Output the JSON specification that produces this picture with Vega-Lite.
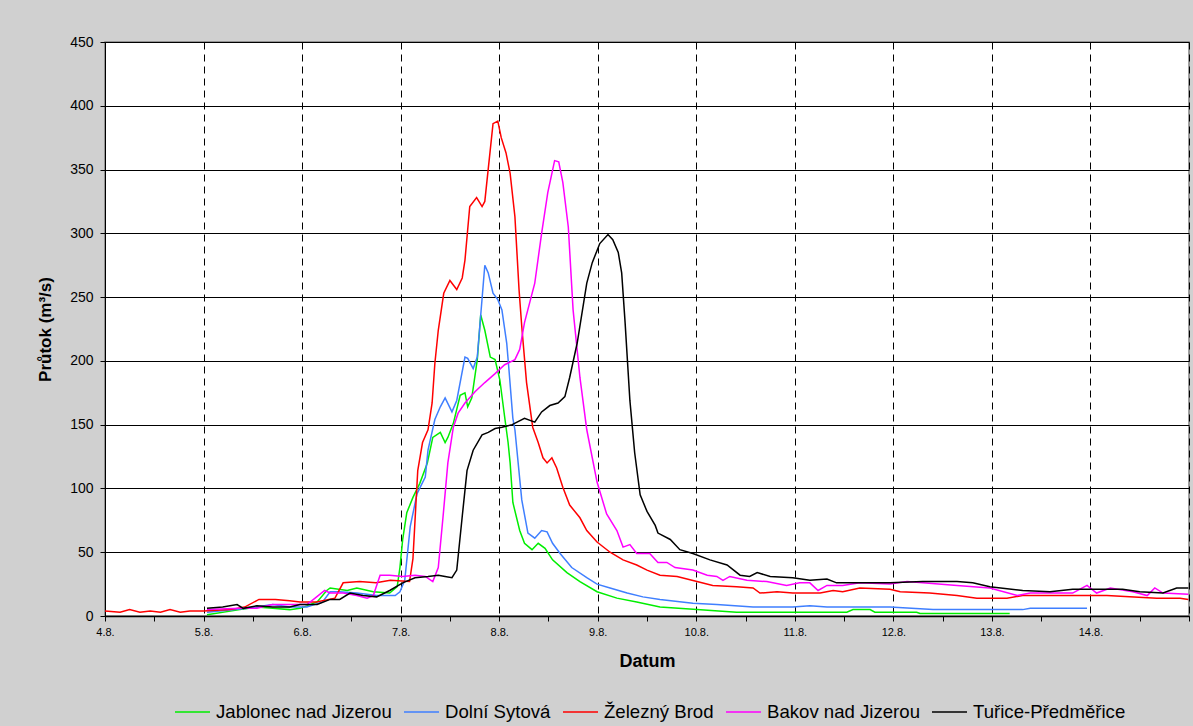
{
  "$schema": "https://vega.github.io/schema/vega-lite/v6.json",
  "width": 1084,
  "height": 574,
  "autosize": {"type": "none"},
  "padding": {"left": 105, "top": 42, "right": 4, "bottom": 110},
  "background": "#d0d0d0",
  "config": {
    "font": "Liberation Sans",
    "view": {"fill": "white", "stroke": "#808080", "strokeWidth": 1.5}
  },
  "data": {
    "values": [
      {"s": "Jablonec nad Jizerou", "t": "2010-08-05T00:50", "q": 1},
      {"s": "Jablonec nad Jizerou", "t": "2010-08-05T08:50", "q": 5},
      {"s": "Jablonec nad Jizerou", "t": "2010-08-05T13:00", "q": 7},
      {"s": "Jablonec nad Jizerou", "t": "2010-08-05T16:50", "q": 6},
      {"s": "Jablonec nad Jizerou", "t": "2010-08-05T21:00", "q": 5},
      {"s": "Jablonec nad Jizerou", "t": "2010-08-05T23:30", "q": 6},
      {"s": "Jablonec nad Jizerou", "t": "2010-08-06T03:40", "q": 11},
      {"s": "Jablonec nad Jizerou", "t": "2010-08-06T06:00", "q": 20},
      {"s": "Jablonec nad Jizerou", "t": "2010-08-06T06:50", "q": 22},
      {"s": "Jablonec nad Jizerou", "t": "2010-08-06T11:00", "q": 20},
      {"s": "Jablonec nad Jizerou", "t": "2010-08-06T13:20", "q": 22},
      {"s": "Jablonec nad Jizerou", "t": "2010-08-06T17:20", "q": 19},
      {"s": "Jablonec nad Jizerou", "t": "2010-08-06T21:20", "q": 18},
      {"s": "Jablonec nad Jizerou", "t": "2010-08-06T23:10", "q": 23},
      {"s": "Jablonec nad Jizerou", "t": "2010-08-06T23:50", "q": 38},
      {"s": "Jablonec nad Jizerou", "t": "2010-08-07T00:30", "q": 60},
      {"s": "Jablonec nad Jizerou", "t": "2010-08-07T01:30", "q": 81},
      {"s": "Jablonec nad Jizerou", "t": "2010-08-07T03:00", "q": 93},
      {"s": "Jablonec nad Jizerou", "t": "2010-08-07T04:40", "q": 104},
      {"s": "Jablonec nad Jizerou", "t": "2010-08-07T06:30", "q": 120},
      {"s": "Jablonec nad Jizerou", "t": "2010-08-07T07:50", "q": 140},
      {"s": "Jablonec nad Jizerou", "t": "2010-08-07T09:40", "q": 144},
      {"s": "Jablonec nad Jizerou", "t": "2010-08-07T10:50", "q": 136},
      {"s": "Jablonec nad Jizerou", "t": "2010-08-07T11:30", "q": 140},
      {"s": "Jablonec nad Jizerou", "t": "2010-08-07T12:50", "q": 151},
      {"s": "Jablonec nad Jizerou", "t": "2010-08-07T14:30", "q": 173},
      {"s": "Jablonec nad Jizerou", "t": "2010-08-07T15:40", "q": 175},
      {"s": "Jablonec nad Jizerou", "t": "2010-08-07T16:20", "q": 164},
      {"s": "Jablonec nad Jizerou", "t": "2010-08-07T17:20", "q": 171},
      {"s": "Jablonec nad Jizerou", "t": "2010-08-07T18:40", "q": 201},
      {"s": "Jablonec nad Jizerou", "t": "2010-08-07T19:30", "q": 236},
      {"s": "Jablonec nad Jizerou", "t": "2010-08-07T20:30", "q": 224},
      {"s": "Jablonec nad Jizerou", "t": "2010-08-07T21:50", "q": 203},
      {"s": "Jablonec nad Jizerou", "t": "2010-08-07T23:00", "q": 201},
      {"s": "Jablonec nad Jizerou", "t": "2010-08-08T00:10", "q": 185},
      {"s": "Jablonec nad Jizerou", "t": "2010-08-08T01:20", "q": 156},
      {"s": "Jablonec nad Jizerou", "t": "2010-08-08T02:10", "q": 136},
      {"s": "Jablonec nad Jizerou", "t": "2010-08-08T02:40", "q": 120},
      {"s": "Jablonec nad Jizerou", "t": "2010-08-08T03:20", "q": 89},
      {"s": "Jablonec nad Jizerou", "t": "2010-08-08T05:00", "q": 67},
      {"s": "Jablonec nad Jizerou", "t": "2010-08-08T06:10", "q": 57},
      {"s": "Jablonec nad Jizerou", "t": "2010-08-08T08:00", "q": 52},
      {"s": "Jablonec nad Jizerou", "t": "2010-08-08T09:30", "q": 57},
      {"s": "Jablonec nad Jizerou", "t": "2010-08-08T11:10", "q": 53},
      {"s": "Jablonec nad Jizerou", "t": "2010-08-08T13:00", "q": 44},
      {"s": "Jablonec nad Jizerou", "t": "2010-08-08T16:30", "q": 34},
      {"s": "Jablonec nad Jizerou", "t": "2010-08-08T19:40", "q": 27},
      {"s": "Jablonec nad Jizerou", "t": "2010-08-08T23:50", "q": 19},
      {"s": "Jablonec nad Jizerou", "t": "2010-08-09T04:40", "q": 14},
      {"s": "Jablonec nad Jizerou", "t": "2010-08-09T09:30", "q": 11},
      {"s": "Jablonec nad Jizerou", "t": "2010-08-09T15:10", "q": 7},
      {"s": "Jablonec nad Jizerou", "t": "2010-08-10T00:10", "q": 5},
      {"s": "Jablonec nad Jizerou", "t": "2010-08-10T09:50", "q": 3},
      {"s": "Jablonec nad Jizerou", "t": "2010-08-11T12:40", "q": 3},
      {"s": "Jablonec nad Jizerou", "t": "2010-08-11T14:10", "q": 5},
      {"s": "Jablonec nad Jizerou", "t": "2010-08-11T18:20", "q": 5},
      {"s": "Jablonec nad Jizerou", "t": "2010-08-11T19:30", "q": 3},
      {"s": "Jablonec nad Jizerou", "t": "2010-08-12T05:40", "q": 3},
      {"s": "Jablonec nad Jizerou", "t": "2010-08-12T06:30", "q": 2},
      {"s": "Jablonec nad Jizerou", "t": "2010-08-13T04:20", "q": 2},

      {"s": "Dolní Sytová", "t": "2010-08-05T00:50", "q": 3},
      {"s": "Dolní Sytová", "t": "2010-08-05T10:40", "q": 6},
      {"s": "Dolní Sytová", "t": "2010-08-05T16:50", "q": 9},
      {"s": "Dolní Sytová", "t": "2010-08-05T21:00", "q": 7},
      {"s": "Dolní Sytová", "t": "2010-08-06T01:10", "q": 7},
      {"s": "Dolní Sytová", "t": "2010-08-06T05:00", "q": 11},
      {"s": "Dolní Sytová", "t": "2010-08-06T06:50", "q": 19},
      {"s": "Dolní Sytová", "t": "2010-08-06T09:10", "q": 19},
      {"s": "Dolní Sytová", "t": "2010-08-06T13:20", "q": 18},
      {"s": "Dolní Sytová", "t": "2010-08-06T18:10", "q": 16},
      {"s": "Dolní Sytová", "t": "2010-08-06T22:40", "q": 16},
      {"s": "Dolní Sytová", "t": "2010-08-06T23:50", "q": 19},
      {"s": "Dolní Sytová", "t": "2010-08-07T01:00", "q": 28},
      {"s": "Dolní Sytová", "t": "2010-08-07T02:20", "q": 70},
      {"s": "Dolní Sytová", "t": "2010-08-07T04:00", "q": 96},
      {"s": "Dolní Sytová", "t": "2010-08-07T06:00", "q": 109},
      {"s": "Dolní Sytová", "t": "2010-08-07T06:40", "q": 130},
      {"s": "Dolní Sytová", "t": "2010-08-07T08:20", "q": 154},
      {"s": "Dolní Sytová", "t": "2010-08-07T09:40", "q": 164},
      {"s": "Dolní Sytová", "t": "2010-08-07T10:50", "q": 171},
      {"s": "Dolní Sytová", "t": "2010-08-07T12:30", "q": 160},
      {"s": "Dolní Sytová", "t": "2010-08-07T13:40", "q": 169},
      {"s": "Dolní Sytová", "t": "2010-08-07T15:40", "q": 203},
      {"s": "Dolní Sytová", "t": "2010-08-07T16:20", "q": 202},
      {"s": "Dolní Sytová", "t": "2010-08-07T17:40", "q": 194},
      {"s": "Dolní Sytová", "t": "2010-08-07T18:40", "q": 203},
      {"s": "Dolní Sytová", "t": "2010-08-07T20:30", "q": 275},
      {"s": "Dolní Sytová", "t": "2010-08-07T21:20", "q": 269},
      {"s": "Dolní Sytová", "t": "2010-08-07T22:30", "q": 253},
      {"s": "Dolní Sytová", "t": "2010-08-07T23:40", "q": 248},
      {"s": "Dolní Sytová", "t": "2010-08-08T00:40", "q": 240},
      {"s": "Dolní Sytová", "t": "2010-08-08T01:50", "q": 214},
      {"s": "Dolní Sytová", "t": "2010-08-08T02:20", "q": 195},
      {"s": "Dolní Sytová", "t": "2010-08-08T03:20", "q": 155},
      {"s": "Dolní Sytová", "t": "2010-08-08T03:50", "q": 146},
      {"s": "Dolní Sytová", "t": "2010-08-08T05:30", "q": 91},
      {"s": "Dolní Sytová", "t": "2010-08-08T07:00", "q": 65},
      {"s": "Dolní Sytová", "t": "2010-08-08T08:40", "q": 61},
      {"s": "Dolní Sytová", "t": "2010-08-08T10:20", "q": 67},
      {"s": "Dolní Sytová", "t": "2010-08-08T11:40", "q": 66},
      {"s": "Dolní Sytová", "t": "2010-08-08T13:00", "q": 57},
      {"s": "Dolní Sytová", "t": "2010-08-08T14:50", "q": 49},
      {"s": "Dolní Sytová", "t": "2010-08-08T17:40", "q": 38},
      {"s": "Dolní Sytová", "t": "2010-08-08T21:20", "q": 30},
      {"s": "Dolní Sytová", "t": "2010-08-08T23:50", "q": 25},
      {"s": "Dolní Sytová", "t": "2010-08-09T03:00", "q": 22},
      {"s": "Dolní Sytová", "t": "2010-08-09T07:10", "q": 18},
      {"s": "Dolní Sytová", "t": "2010-08-09T11:00", "q": 15},
      {"s": "Dolní Sytová", "t": "2010-08-09T15:10", "q": 13},
      {"s": "Dolní Sytová", "t": "2010-08-09T23:10", "q": 10},
      {"s": "Dolní Sytová", "t": "2010-08-10T05:00", "q": 9},
      {"s": "Dolní Sytová", "t": "2010-08-10T13:50", "q": 7},
      {"s": "Dolní Sytová", "t": "2010-08-10T23:30", "q": 7},
      {"s": "Dolní Sytová", "t": "2010-08-11T03:40", "q": 8},
      {"s": "Dolní Sytová", "t": "2010-08-11T07:50", "q": 7},
      {"s": "Dolní Sytová", "t": "2010-08-11T23:10", "q": 7},
      {"s": "Dolní Sytová", "t": "2010-08-12T09:40", "q": 5},
      {"s": "Dolní Sytová", "t": "2010-08-13T07:30", "q": 5},
      {"s": "Dolní Sytová", "t": "2010-08-13T09:20", "q": 6},
      {"s": "Dolní Sytová", "t": "2010-08-13T23:10", "q": 6},

      {"s": "Železný Brod", "t": "2010-08-04T00:00", "q": 4},
      {"s": "Železný Brod", "t": "2010-08-04T03:40", "q": 3},
      {"s": "Železný Brod", "t": "2010-08-04T06:00", "q": 5},
      {"s": "Železný Brod", "t": "2010-08-04T08:30", "q": 3},
      {"s": "Železný Brod", "t": "2010-08-04T11:00", "q": 4},
      {"s": "Železný Brod", "t": "2010-08-04T13:30", "q": 3},
      {"s": "Železný Brod", "t": "2010-08-04T15:50", "q": 5},
      {"s": "Železný Brod", "t": "2010-08-04T18:20", "q": 3},
      {"s": "Železný Brod", "t": "2010-08-04T20:40", "q": 4},
      {"s": "Železný Brod", "t": "2010-08-05T00:00", "q": 4},
      {"s": "Železný Brod", "t": "2010-08-05T06:30", "q": 5},
      {"s": "Železný Brod", "t": "2010-08-05T10:00", "q": 7},
      {"s": "Železný Brod", "t": "2010-08-05T13:30", "q": 13},
      {"s": "Železný Brod", "t": "2010-08-05T17:30", "q": 13},
      {"s": "Železný Brod", "t": "2010-08-05T21:00", "q": 12},
      {"s": "Železný Brod", "t": "2010-08-05T23:30", "q": 11},
      {"s": "Železný Brod", "t": "2010-08-06T03:30", "q": 11},
      {"s": "Železný Brod", "t": "2010-08-06T08:00", "q": 14},
      {"s": "Železný Brod", "t": "2010-08-06T10:00", "q": 26},
      {"s": "Železný Brod", "t": "2010-08-06T14:00", "q": 27},
      {"s": "Železný Brod", "t": "2010-08-06T18:00", "q": 26},
      {"s": "Železný Brod", "t": "2010-08-06T21:30", "q": 28},
      {"s": "Železný Brod", "t": "2010-08-07T02:10", "q": 27},
      {"s": "Železný Brod", "t": "2010-08-07T03:00", "q": 45},
      {"s": "Železný Brod", "t": "2010-08-07T04:10", "q": 114},
      {"s": "Železný Brod", "t": "2010-08-07T05:20", "q": 136},
      {"s": "Železný Brod", "t": "2010-08-07T06:40", "q": 146},
      {"s": "Železný Brod", "t": "2010-08-07T07:40", "q": 167},
      {"s": "Železný Brod", "t": "2010-08-07T08:20", "q": 198},
      {"s": "Železný Brod", "t": "2010-08-07T09:10", "q": 224},
      {"s": "Železný Brod", "t": "2010-08-07T10:30", "q": 253},
      {"s": "Železný Brod", "t": "2010-08-07T12:00", "q": 263},
      {"s": "Železný Brod", "t": "2010-08-07T13:40", "q": 256},
      {"s": "Železný Brod", "t": "2010-08-07T15:00", "q": 265},
      {"s": "Železný Brod", "t": "2010-08-07T15:40", "q": 279},
      {"s": "Železný Brod", "t": "2010-08-07T16:50", "q": 321},
      {"s": "Železný Brod", "t": "2010-08-07T18:30", "q": 328},
      {"s": "Železný Brod", "t": "2010-08-07T19:50", "q": 321},
      {"s": "Železný Brod", "t": "2010-08-07T20:30", "q": 325},
      {"s": "Železný Brod", "t": "2010-08-07T22:30", "q": 386},
      {"s": "Železný Brod", "t": "2010-08-07T23:40", "q": 388},
      {"s": "Železný Brod", "t": "2010-08-08T00:30", "q": 375},
      {"s": "Železný Brod", "t": "2010-08-08T01:40", "q": 363},
      {"s": "Železný Brod", "t": "2010-08-08T02:40", "q": 347},
      {"s": "Železný Brod", "t": "2010-08-08T03:50", "q": 313},
      {"s": "Železný Brod", "t": "2010-08-08T04:50", "q": 256},
      {"s": "Železný Brod", "t": "2010-08-08T05:30", "q": 227},
      {"s": "Železný Brod", "t": "2010-08-08T06:40", "q": 183},
      {"s": "Železný Brod", "t": "2010-08-08T08:10", "q": 148},
      {"s": "Železný Brod", "t": "2010-08-08T09:30", "q": 136},
      {"s": "Železný Brod", "t": "2010-08-08T10:40", "q": 124},
      {"s": "Železný Brod", "t": "2010-08-08T11:40", "q": 120},
      {"s": "Železný Brod", "t": "2010-08-08T12:50", "q": 124},
      {"s": "Železný Brod", "t": "2010-08-08T14:00", "q": 116},
      {"s": "Železný Brod", "t": "2010-08-08T15:30", "q": 101},
      {"s": "Železný Brod", "t": "2010-08-08T17:10", "q": 87},
      {"s": "Železný Brod", "t": "2010-08-08T19:40", "q": 77},
      {"s": "Železný Brod", "t": "2010-08-08T21:20", "q": 67},
      {"s": "Železný Brod", "t": "2010-08-08T23:50", "q": 58},
      {"s": "Železný Brod", "t": "2010-08-09T03:00", "q": 50},
      {"s": "Železný Brod", "t": "2010-08-09T06:10", "q": 44},
      {"s": "Železný Brod", "t": "2010-08-09T09:30", "q": 40},
      {"s": "Železný Brod", "t": "2010-08-09T12:00", "q": 36},
      {"s": "Železný Brod", "t": "2010-08-09T15:10", "q": 32},
      {"s": "Železný Brod", "t": "2010-08-09T19:20", "q": 31},
      {"s": "Železný Brod", "t": "2010-08-10T00:10", "q": 27},
      {"s": "Železný Brod", "t": "2010-08-10T04:00", "q": 24},
      {"s": "Železný Brod", "t": "2010-08-10T09:50", "q": 23},
      {"s": "Železný Brod", "t": "2010-08-10T13:50", "q": 22},
      {"s": "Železný Brod", "t": "2010-08-10T15:30", "q": 18},
      {"s": "Železný Brod", "t": "2010-08-10T19:40", "q": 19},
      {"s": "Železný Brod", "t": "2010-08-10T23:30", "q": 18},
      {"s": "Železný Brod", "t": "2010-08-11T06:10", "q": 18},
      {"s": "Železný Brod", "t": "2010-08-11T09:20", "q": 20},
      {"s": "Železný Brod", "t": "2010-08-11T11:40", "q": 19},
      {"s": "Železný Brod", "t": "2010-08-11T15:50", "q": 22},
      {"s": "Železný Brod", "t": "2010-08-11T23:10", "q": 21},
      {"s": "Železný Brod", "t": "2010-08-12T01:40", "q": 19},
      {"s": "Železný Brod", "t": "2010-08-12T08:50", "q": 18},
      {"s": "Železný Brod", "t": "2010-08-12T15:30", "q": 16},
      {"s": "Železný Brod", "t": "2010-08-12T20:20", "q": 14},
      {"s": "Železný Brod", "t": "2010-08-13T03:40", "q": 14},
      {"s": "Železný Brod", "t": "2010-08-13T07:30", "q": 16},
      {"s": "Železný Brod", "t": "2010-08-13T19:40", "q": 16},
      {"s": "Železný Brod", "t": "2010-08-14T04:00", "q": 16},
      {"s": "Železný Brod", "t": "2010-08-14T16:10", "q": 14},
      {"s": "Železný Brod", "t": "2010-08-14T21:50", "q": 14},
      {"s": "Železný Brod", "t": "2010-08-14T23:50", "q": 13},

      {"s": "Bakov nad Jizerou", "t": "2010-08-05T00:50", "q": 5},
      {"s": "Bakov nad Jizerou", "t": "2010-08-05T08:50", "q": 6},
      {"s": "Bakov nad Jizerou", "t": "2010-08-05T13:00", "q": 6},
      {"s": "Bakov nad Jizerou", "t": "2010-08-05T16:50", "q": 9},
      {"s": "Bakov nad Jizerou", "t": "2010-08-06T01:10", "q": 9},
      {"s": "Bakov nad Jizerou", "t": "2010-08-06T03:10", "q": 14},
      {"s": "Bakov nad Jizerou", "t": "2010-08-06T05:30", "q": 20},
      {"s": "Bakov nad Jizerou", "t": "2010-08-06T06:50", "q": 18},
      {"s": "Bakov nad Jizerou", "t": "2010-08-06T10:00", "q": 18},
      {"s": "Bakov nad Jizerou", "t": "2010-08-06T13:20", "q": 16},
      {"s": "Bakov nad Jizerou", "t": "2010-08-06T15:50", "q": 14},
      {"s": "Bakov nad Jizerou", "t": "2010-08-06T17:20", "q": 16},
      {"s": "Bakov nad Jizerou", "t": "2010-08-06T19:00", "q": 32},
      {"s": "Bakov nad Jizerou", "t": "2010-08-06T21:20", "q": 32},
      {"s": "Bakov nad Jizerou", "t": "2010-08-07T00:30", "q": 31},
      {"s": "Bakov nad Jizerou", "t": "2010-08-07T03:30", "q": 32},
      {"s": "Bakov nad Jizerou", "t": "2010-08-07T06:00", "q": 31},
      {"s": "Bakov nad Jizerou", "t": "2010-08-07T07:50", "q": 27},
      {"s": "Bakov nad Jizerou", "t": "2010-08-07T09:10", "q": 38},
      {"s": "Bakov nad Jizerou", "t": "2010-08-07T10:20", "q": 78},
      {"s": "Bakov nad Jizerou", "t": "2010-08-07T11:30", "q": 120},
      {"s": "Bakov nad Jizerou", "t": "2010-08-07T12:50", "q": 148},
      {"s": "Bakov nad Jizerou", "t": "2010-08-07T14:00", "q": 159},
      {"s": "Bakov nad Jizerou", "t": "2010-08-07T15:40", "q": 167},
      {"s": "Bakov nad Jizerou", "t": "2010-08-07T18:10", "q": 176},
      {"s": "Bakov nad Jizerou", "t": "2010-08-07T20:30", "q": 183},
      {"s": "Bakov nad Jizerou", "t": "2010-08-07T23:00", "q": 190},
      {"s": "Bakov nad Jizerou", "t": "2010-08-08T01:20", "q": 197},
      {"s": "Bakov nad Jizerou", "t": "2010-08-08T03:50", "q": 201},
      {"s": "Bakov nad Jizerou", "t": "2010-08-08T05:00", "q": 209},
      {"s": "Bakov nad Jizerou", "t": "2010-08-08T06:10", "q": 230},
      {"s": "Bakov nad Jizerou", "t": "2010-08-08T08:40", "q": 261},
      {"s": "Bakov nad Jizerou", "t": "2010-08-08T10:20", "q": 300},
      {"s": "Bakov nad Jizerou", "t": "2010-08-08T11:50", "q": 332},
      {"s": "Bakov nad Jizerou", "t": "2010-08-08T13:30", "q": 357},
      {"s": "Bakov nad Jizerou", "t": "2010-08-08T14:30", "q": 356},
      {"s": "Bakov nad Jizerou", "t": "2010-08-08T15:30", "q": 340},
      {"s": "Bakov nad Jizerou", "t": "2010-08-08T16:50", "q": 305},
      {"s": "Bakov nad Jizerou", "t": "2010-08-08T18:00", "q": 240},
      {"s": "Bakov nad Jizerou", "t": "2010-08-08T19:40", "q": 187},
      {"s": "Bakov nad Jizerou", "t": "2010-08-08T21:20", "q": 146},
      {"s": "Bakov nad Jizerou", "t": "2010-08-08T23:50", "q": 105},
      {"s": "Bakov nad Jizerou", "t": "2010-08-09T02:10", "q": 80},
      {"s": "Bakov nad Jizerou", "t": "2010-08-09T04:40", "q": 67},
      {"s": "Bakov nad Jizerou", "t": "2010-08-09T06:10", "q": 54},
      {"s": "Bakov nad Jizerou", "t": "2010-08-09T07:50", "q": 56},
      {"s": "Bakov nad Jizerou", "t": "2010-08-09T09:30", "q": 49},
      {"s": "Bakov nad Jizerou", "t": "2010-08-09T12:40", "q": 49},
      {"s": "Bakov nad Jizerou", "t": "2010-08-09T14:40", "q": 42},
      {"s": "Bakov nad Jizerou", "t": "2010-08-09T16:50", "q": 42},
      {"s": "Bakov nad Jizerou", "t": "2010-08-09T18:50", "q": 38},
      {"s": "Bakov nad Jizerou", "t": "2010-08-09T23:10", "q": 36},
      {"s": "Bakov nad Jizerou", "t": "2010-08-10T02:40", "q": 32},
      {"s": "Bakov nad Jizerou", "t": "2010-08-10T05:00", "q": 31},
      {"s": "Bakov nad Jizerou", "t": "2010-08-10T06:30", "q": 28},
      {"s": "Bakov nad Jizerou", "t": "2010-08-10T08:10", "q": 31},
      {"s": "Bakov nad Jizerou", "t": "2010-08-10T12:20", "q": 28},
      {"s": "Bakov nad Jizerou", "t": "2010-08-10T17:10", "q": 27},
      {"s": "Bakov nad Jizerou", "t": "2010-08-10T22:00", "q": 24},
      {"s": "Bakov nad Jizerou", "t": "2010-08-11T01:10", "q": 26},
      {"s": "Bakov nad Jizerou", "t": "2010-08-11T03:40", "q": 26},
      {"s": "Bakov nad Jizerou", "t": "2010-08-11T05:40", "q": 20},
      {"s": "Bakov nad Jizerou", "t": "2010-08-11T07:50", "q": 24},
      {"s": "Bakov nad Jizerou", "t": "2010-08-11T11:40", "q": 24},
      {"s": "Bakov nad Jizerou", "t": "2010-08-11T15:50", "q": 26},
      {"s": "Bakov nad Jizerou", "t": "2010-08-11T23:10", "q": 25},
      {"s": "Bakov nad Jizerou", "t": "2010-08-12T03:20", "q": 27},
      {"s": "Bakov nad Jizerou", "t": "2010-08-12T07:10", "q": 26},
      {"s": "Bakov nad Jizerou", "t": "2010-08-12T15:30", "q": 24},
      {"s": "Bakov nad Jizerou", "t": "2010-08-12T23:30", "q": 22},
      {"s": "Bakov nad Jizerou", "t": "2010-08-13T06:10", "q": 16},
      {"s": "Bakov nad Jizerou", "t": "2010-08-13T09:20", "q": 18},
      {"s": "Bakov nad Jizerou", "t": "2010-08-13T19:40", "q": 18},
      {"s": "Bakov nad Jizerou", "t": "2010-08-13T23:10", "q": 24},
      {"s": "Bakov nad Jizerou", "t": "2010-08-14T01:30", "q": 18},
      {"s": "Bakov nad Jizerou", "t": "2010-08-14T04:50", "q": 22},
      {"s": "Bakov nad Jizerou", "t": "2010-08-14T10:20", "q": 19},
      {"s": "Bakov nad Jizerou", "t": "2010-08-14T13:50", "q": 16},
      {"s": "Bakov nad Jizerou", "t": "2010-08-14T15:40", "q": 22},
      {"s": "Bakov nad Jizerou", "t": "2010-08-14T17:40", "q": 18},
      {"s": "Bakov nad Jizerou", "t": "2010-08-14T23:50", "q": 17},

      {"s": "Tuřice-Předměřice", "t": "2010-08-05T00:50", "q": 6},
      {"s": "Tuřice-Předměřice", "t": "2010-08-05T04:40", "q": 7},
      {"s": "Tuřice-Předměřice", "t": "2010-08-05T08:10", "q": 9},
      {"s": "Tuřice-Předměřice", "t": "2010-08-05T09:40", "q": 6},
      {"s": "Tuřice-Předměřice", "t": "2010-08-05T13:00", "q": 8},
      {"s": "Tuřice-Předměřice", "t": "2010-08-05T16:50", "q": 7},
      {"s": "Tuřice-Předměřice", "t": "2010-08-05T21:00", "q": 7},
      {"s": "Tuřice-Předměřice", "t": "2010-08-05T23:30", "q": 9},
      {"s": "Tuřice-Předměřice", "t": "2010-08-06T03:40", "q": 9},
      {"s": "Tuřice-Předměřice", "t": "2010-08-06T06:50", "q": 13},
      {"s": "Tuřice-Předměřice", "t": "2010-08-06T09:10", "q": 13},
      {"s": "Tuřice-Předměřice", "t": "2010-08-06T11:40", "q": 18},
      {"s": "Tuřice-Předměřice", "t": "2010-08-06T14:50", "q": 16},
      {"s": "Tuřice-Předměřice", "t": "2010-08-06T18:10", "q": 15},
      {"s": "Tuřice-Předměřice", "t": "2010-08-06T21:20", "q": 20},
      {"s": "Tuřice-Předměřice", "t": "2010-08-07T00:30", "q": 26},
      {"s": "Tuřice-Předměřice", "t": "2010-08-07T03:30", "q": 30},
      {"s": "Tuřice-Předměřice", "t": "2010-08-07T06:40", "q": 31},
      {"s": "Tuřice-Předměřice", "t": "2010-08-07T09:10", "q": 32},
      {"s": "Tuřice-Předměřice", "t": "2010-08-07T10:50", "q": 31},
      {"s": "Tuřice-Předměřice", "t": "2010-08-07T12:30", "q": 30},
      {"s": "Tuřice-Předměřice", "t": "2010-08-07T13:40", "q": 36},
      {"s": "Tuřice-Předměřice", "t": "2010-08-07T15:00", "q": 78},
      {"s": "Tuřice-Předměřice", "t": "2010-08-07T16:10", "q": 114},
      {"s": "Tuřice-Předměřice", "t": "2010-08-07T17:40", "q": 130},
      {"s": "Tuřice-Předměřice", "t": "2010-08-07T19:50", "q": 142},
      {"s": "Tuřice-Předměřice", "t": "2010-08-07T21:20", "q": 144},
      {"s": "Tuřice-Předměřice", "t": "2010-08-07T23:00", "q": 147},
      {"s": "Tuřice-Předměřice", "t": "2010-08-08T00:40", "q": 148},
      {"s": "Tuřice-Předměřice", "t": "2010-08-08T03:10", "q": 150},
      {"s": "Tuřice-Předměřice", "t": "2010-08-08T06:10", "q": 155},
      {"s": "Tuřice-Předměřice", "t": "2010-08-08T08:40", "q": 152},
      {"s": "Tuřice-Předměřice", "t": "2010-08-08T10:20", "q": 160},
      {"s": "Tuřice-Předměřice", "t": "2010-08-08T12:20", "q": 165},
      {"s": "Tuřice-Předměřice", "t": "2010-08-08T14:20", "q": 167},
      {"s": "Tuřice-Předměřice", "t": "2010-08-08T16:00", "q": 172},
      {"s": "Tuřice-Předměřice", "t": "2010-08-08T17:10", "q": 187},
      {"s": "Tuřice-Předměřice", "t": "2010-08-08T19:00", "q": 214},
      {"s": "Tuřice-Předměřice", "t": "2010-08-08T21:20", "q": 261},
      {"s": "Tuřice-Předměřice", "t": "2010-08-08T22:40", "q": 277},
      {"s": "Tuřice-Předměřice", "t": "2010-08-09T00:30", "q": 292},
      {"s": "Tuřice-Předměřice", "t": "2010-08-09T02:30", "q": 299},
      {"s": "Tuřice-Předměřice", "t": "2010-08-09T03:40", "q": 295},
      {"s": "Tuřice-Předměřice", "t": "2010-08-09T05:00", "q": 285},
      {"s": "Tuřice-Předměřice", "t": "2010-08-09T05:50", "q": 269},
      {"s": "Tuřice-Předměřice", "t": "2010-08-09T06:40", "q": 230},
      {"s": "Tuřice-Předměřice", "t": "2010-08-09T07:50", "q": 169},
      {"s": "Tuřice-Předměřice", "t": "2010-08-09T09:00", "q": 128},
      {"s": "Tuřice-Předměřice", "t": "2010-08-09T10:20", "q": 95},
      {"s": "Tuřice-Předměřice", "t": "2010-08-09T12:00", "q": 82},
      {"s": "Tuřice-Předměřice", "t": "2010-08-09T14:00", "q": 71},
      {"s": "Tuřice-Předměřice", "t": "2010-08-09T14:40", "q": 65},
      {"s": "Tuřice-Předměřice", "t": "2010-08-09T17:40", "q": 60},
      {"s": "Tuřice-Předměřice", "t": "2010-08-09T20:00", "q": 52},
      {"s": "Tuřice-Předměřice", "t": "2010-08-09T23:10", "q": 49},
      {"s": "Tuřice-Předměřice", "t": "2010-08-10T03:20", "q": 44},
      {"s": "Tuřice-Předměřice", "t": "2010-08-10T07:30", "q": 40},
      {"s": "Tuřice-Předměřice", "t": "2010-08-10T10:40", "q": 32},
      {"s": "Tuřice-Předměřice", "t": "2010-08-10T13:00", "q": 31},
      {"s": "Tuřice-Předměřice", "t": "2010-08-10T14:50", "q": 34},
      {"s": "Tuřice-Předměřice", "t": "2010-08-10T18:00", "q": 31},
      {"s": "Tuřice-Předměřice", "t": "2010-08-10T23:30", "q": 30},
      {"s": "Tuřice-Předměřice", "t": "2010-08-11T03:40", "q": 28},
      {"s": "Tuřice-Předměřice", "t": "2010-08-11T07:50", "q": 29},
      {"s": "Tuřice-Předměřice", "t": "2010-08-11T10:10", "q": 26},
      {"s": "Tuřice-Předměřice", "t": "2010-08-11T15:10", "q": 26},
      {"s": "Tuřice-Předměřice", "t": "2010-08-11T23:10", "q": 26},
      {"s": "Tuřice-Předměřice", "t": "2010-08-12T07:10", "q": 27},
      {"s": "Tuřice-Předměřice", "t": "2010-08-12T15:30", "q": 27},
      {"s": "Tuřice-Předměřice", "t": "2010-08-12T19:20", "q": 26},
      {"s": "Tuřice-Předměřice", "t": "2010-08-12T23:30", "q": 23},
      {"s": "Tuřice-Předměřice", "t": "2010-08-13T07:30", "q": 20},
      {"s": "Tuřice-Předměřice", "t": "2010-08-13T14:10", "q": 19},
      {"s": "Tuřice-Předměřice", "t": "2010-08-13T19:40", "q": 21},
      {"s": "Tuřice-Předměřice", "t": "2010-08-14T07:50", "q": 21},
      {"s": "Tuřice-Předměřice", "t": "2010-08-14T12:00", "q": 19},
      {"s": "Tuřice-Předměřice", "t": "2010-08-14T17:40", "q": 18},
      {"s": "Tuřice-Předměřice", "t": "2010-08-14T21:00", "q": 22},
      {"s": "Tuřice-Předměřice", "t": "2010-08-14T23:50", "q": 22}
    ]
  },
  "mark": {"type": "line", "strokeWidth": 1.5, "clip": true},
  "encoding": {
    "x": {
      "field": "t",
      "type": "temporal",
      "scale": {
        "domain": [
          {"year": 2010, "month": 8, "date": 4},
          {"year": 2010, "month": 8, "date": 15}
        ],
        "nice": false
      },
      "axis": {
        "title": "Datum",
        "titleFontSize": 18,
        "titleFontWeight": "bold",
        "titleColor": "black",
        "titlePadding": 15,
        "values": [
          {"year": 2010, "month": 8, "date": 4},
          {"year": 2010, "month": 8, "date": 4, "hours": 12},
          {"year": 2010, "month": 8, "date": 5},
          {"year": 2010, "month": 8, "date": 5, "hours": 12},
          {"year": 2010, "month": 8, "date": 6},
          {"year": 2010, "month": 8, "date": 6, "hours": 12},
          {"year": 2010, "month": 8, "date": 7},
          {"year": 2010, "month": 8, "date": 7, "hours": 12},
          {"year": 2010, "month": 8, "date": 8},
          {"year": 2010, "month": 8, "date": 8, "hours": 12},
          {"year": 2010, "month": 8, "date": 9},
          {"year": 2010, "month": 8, "date": 9, "hours": 12},
          {"year": 2010, "month": 8, "date": 10},
          {"year": 2010, "month": 8, "date": 10, "hours": 12},
          {"year": 2010, "month": 8, "date": 11},
          {"year": 2010, "month": 8, "date": 11, "hours": 12},
          {"year": 2010, "month": 8, "date": 12},
          {"year": 2010, "month": 8, "date": 12, "hours": 12},
          {"year": 2010, "month": 8, "date": 13},
          {"year": 2010, "month": 8, "date": 13, "hours": 12},
          {"year": 2010, "month": 8, "date": 14},
          {"year": 2010, "month": 8, "date": 14, "hours": 12},
          {"year": 2010, "month": 8, "date": 15}
        ],
        "format": "%-d.%-m.",
        "labelOpacity": {"condition": {"test": "hours(datum.value) == 0 && date(datum.value) != 15", "value": 1}, "value": 0},
        "labelFontSize": 11,
        "labelColor": "black",
        "labelPadding": 5,
        "labelFlush": false,
        "labelOverlap": false,
        "grid": true,
        "gridColor": "black",
        "gridDash": [7, 5],
        "gridOpacity": {"condition": {"test": "hours(datum.value) == 0", "value": 1}, "value": 0},
        "domainColor": "black",
        "domainWidth": 1.5,
        "tickColor": "black",
        "tickSize": 5
      }
    },
    "y": {
      "field": "q",
      "type": "quantitative",
      "scale": {"domain": [0, 450], "nice": false},
      "axis": {
        "title": "Průtok (m³/s)",
        "titleFontSize": 17,
        "titleFontWeight": "bold",
        "titleColor": "black",
        "titlePadding": 15,
        "values": [0, 50, 100, 150, 200, 250, 300, 350, 400, 450],
        "labelFontSize": 14,
        "labelColor": "black",
        "labelPadding": 7,
        "grid": true,
        "gridColor": "black",
        "gridWidth": 1,
        "domainColor": "black",
        "tickColor": "black",
        "tickSize": 5
      }
    },
    "color": {
      "field": "s",
      "type": "nominal",
      "scale": {
        "domain": ["Jablonec nad Jizerou", "Dolní Sytová", "Železný Brod", "Bakov nad Jizerou", "Tuřice-Předměřice"],
        "range": ["#00ee00", "#3f7fff", "#ff0000", "#ff00ff", "#000000"]
      },
      "legend": {
        "title": null,
        "orient": "none",
        "legendX": 69,
        "legendY": 651,
        "direction": "horizontal",
        "symbolType": "stroke",
        "symbolSize": 1225,
        "symbolStrokeWidth": 1.5,
        "labelFontSize": 18.6,
        "labelColor": "black",
        "labelOffset": 5,
        "labelLimit": 400,
        "columnPadding": 9
      }
    }
  }
}
